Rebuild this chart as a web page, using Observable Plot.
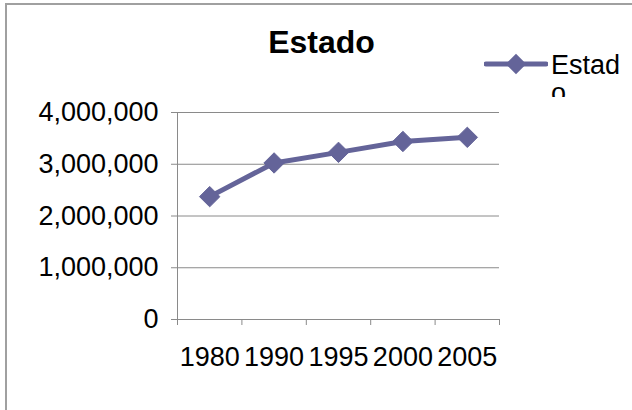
<!DOCTYPE html>
<html>
<head>
<meta charset="utf-8">
<script src="https://cdn.jsdelivr.net/npm/d3@7"></script>
<script src="https://cdn.jsdelivr.net/npm/@observablehq/plot@0.6"></script>
<style>
  html, body { margin: 0; padding: 0; background: #fff; }
  body { width: 632px; height: 410px; overflow: hidden; position: relative; font-family: "Liberation Sans", Arial, sans-serif; }
  #frame { position: absolute; left: 5px; top: 3px; width: 700px; height: 500px; border-left: 2px solid #a0a0a0; border-top: 2px solid #a0a0a0; }
  #title { position: absolute; left: 0; width: 643px; top: 24px; text-align: center; font-size: 32px; font-weight: bold; color: #000; }
  #chart { position: absolute; left: 0; top: 0; }
  #legend { position: absolute; left: 484px; top: 52px; }
  #legend svg { position: absolute; left: 0; top: 0; }
  #legtext { position: absolute; left: 67px; top: -1px; width: 76px; height: 46px; overflow: hidden; font-size: 27px; line-height: 28px; word-break: break-all; color: #000; }
</style>
</head>
<body>
<div id="frame"></div>
<div id="title">Estado</div>
<div id="chart"></div>
<div id="legend"></div>
<script>
const years = ["1980", "1990", "1995", "2000", "2005"];
const values = [2374000, 3025000, 3230000, 3440000, 3520000];
const yTicks = [0, 1000000, 2000000, 3000000, 4000000];
const seriesName = "Estado";
const lineColor = "#646499";
const gridColor = "#8a8a8a";

const data = years.map((year, i) => ({year, index: i + 0.5, value: values[i]}));
const bandEdges = d3.range(years.length + 1);
const bandCenters = years.map((_, i) => i + 0.5);

const chart = Plot.plot({
  width: 632,
  height: 410,
  marginLeft: 177,
  marginRight: 133,
  marginTop: 112,
  marginBottom: 91,
  style: {fontFamily: "'Liberation Sans', Arial, sans-serif", background: "transparent", color: "#000"},
  x: {domain: [0, years.length]},
  y: {domain: [0, 4000000]},
  marks: [
    Plot.ruleY(yTicks, {stroke: gridColor, strokeWidth: 1}),
    Plot.ruleX([0], {y1: 0, y2: 4000000, stroke: gridColor, strokeWidth: 1}),
    Plot.axisY({ticks: yTicks, tickSize: 6, tickPadding: 13, stroke: gridColor, strokeOpacity: 1, tickFormat: d3.format(","), fontSize: 27, label: null}),
    Plot.axisX({ticks: bandEdges, tickSize: 6, stroke: gridColor, strokeOpacity: 1, tickFormat: () => "", label: null}),
    Plot.axisX({ticks: bandCenters, tickSize: 0, tickPadding: 27, tickFormat: d => years[Math.round(d - 0.5)], fontSize: 27, label: null}),
    Plot.line(data, {x: "index", y: "value", stroke: lineColor, strokeWidth: 5, strokeLinejoin: "round"}),
    Plot.dot(data, {x: "index", y: "value", symbol: "diamond2", r: 9.2, fill: lineColor, stroke: lineColor, strokeWidth: 1})
  ]
});
document.getElementById("chart").appendChild(chart);

// Legend (HTML overlay)
const legend = d3.select("#legend");
const sw = legend.append("svg").attr("width", 64).attr("height", 30);
sw.append("line").attr("x1", 2).attr("x2", 62).attr("y1", 12).attr("y2", 12)
  .attr("stroke", lineColor).attr("stroke-width", 5).attr("stroke-linecap", "round");
sw.append("path").attr("transform", "translate(32,12)")
  .attr("d", d3.symbol(d3.symbolDiamond2, Math.PI * 9.2 * 9.2)())
  .attr("fill", lineColor);
legend.append("div").attr("id", "legtext").text(seriesName);
</script>
</body>
</html>
